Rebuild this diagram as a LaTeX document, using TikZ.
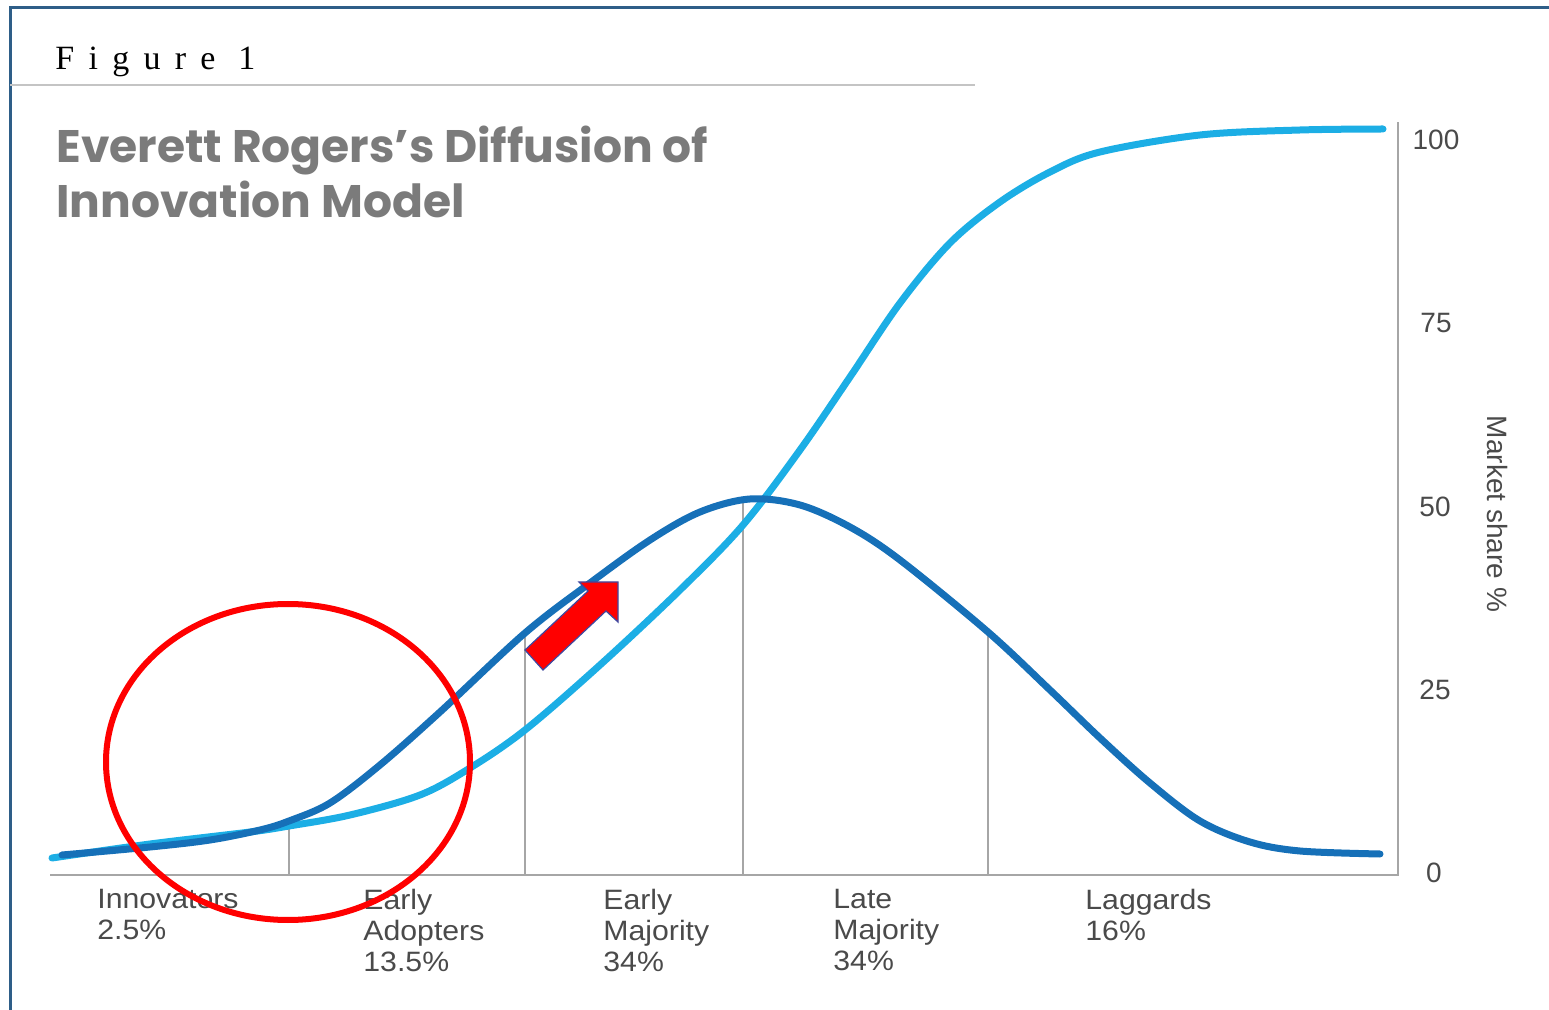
\documentclass[tikz,border=0pt]{standalone}
\usepackage{fontspec}
\setmainfont{Liberation Sans}
\newfontfamily\titlefont{Poppins}
\newfontfamily\figfont[LetterSpace=42]{Liberation Serif}
\newfontfamily\labfont[FakeStretch=1.08]{Liberation Sans}
\definecolor{frameblue}{HTML}{2E5E88}
\definecolor{sblue}{HTML}{1CAEE5}
\definecolor{bellblue}{HTML}{1670B8}
\definecolor{axisgrey}{HTML}{A6A6A6}
\definecolor{rulegrey}{HTML}{C4C4C4}
\definecolor{textgrey}{HTML}{4A4A4A}
\definecolor{titlegrey}{HTML}{7B7B7B}
\definecolor{arrowedge}{HTML}{3F48A0}
\tikzset{
  curve/.style={line width=3.5pt, line cap=round, smooth, tension=0.55},
  axisline/.style={draw=axisgrey, line width=1pt},
  divider/.style={draw=axisgrey, line width=1pt},
  catlabel/.style={anchor=north west, inner sep=0pt, align=left, text=textgrey,
    font=\labfont\fontsize{14pt}{15.5pt}\selectfont},
  ticklab/.style={inner sep=0pt, text=textgrey, font=\fontsize{14pt}{16pt}\selectfont},
}
\begin{document}
\begin{tikzpicture}[x=0.5pt, y=-0.5pt]
\useasboundingbox (0,0) rectangle (1549,1010);
% frame
\draw[frameblue, line width=1.5pt] (10,1010) -- (10,8) -- (1549,8);
\draw[rulegrey, line width=1pt] (10,85) -- (975,85);
% header texts
\node[anchor=base west, inner sep=0pt, font=\figfont\fontsize{17pt}{19pt}\selectfont] (fig) at (55,70) {Figure 1};
\node[anchor=base west, inner sep=0pt, align=left, text=titlegrey,
  font=\titlefont\bfseries\fontsize{22.8pt}{27.5pt}\selectfont] (title) at (56,218)
  {Everett Rogers’s Diffusion of\\Innovation Model};
% axes
\coordinate (o) at (50,875);
\coordinate (xr) at (1398,875);
\coordinate (yt) at (1398,122);
\draw[axisline] (o) -- (xr) -- (yt);
% dividers
\coordinate (d1b) at (289,875); \coordinate (d1t) at (289,822);
\coordinate (d2b) at (525,875); \coordinate (d2t) at (525,632);
\coordinate (d3b) at (743,875); \coordinate (d3t) at (743,502);
\coordinate (d4b) at (988,875); \coordinate (d4t) at (988,632);
\draw[divider] (d1b) -- (d1t);
\draw[divider] (d2b) -- (d2t);
\draw[divider] (d3b) -- (d3t);
\draw[divider] (d4b) -- (d4t);
% S curve
\draw[curve, draw=sblue] plot coordinates {(52,858) (150,844) (250,832) (289,826) (350,815) (420,795) (470,768) (525,730) (600,665) (680,590) (743,525) (800,450) (850,377) (900,303) (950,243) (1000,202) (1050,172) (1100,152) (1200,135) (1300,130) (1383,129)};
% bell curve
\draw[curve, draw=bellblue] plot coordinates {(62,855) (150,847) (210,840) (260,830) (289,821) (330,803) (380,765) (440,712) (525,633) (590,583) (650,540) (700,512) (750,499) (800,505) (850,527) (900,560) (988,632) (1050,690) (1100,738) (1150,783) (1200,821) (1250,842) (1300,851) (1380,854)};
% ticks
\node[ticklab] (t100) at (1436,140) {100};
\node[ticklab] (t75) at (1436,323) {75};
\node[ticklab] (t50) at (1435,507) {50};
\node[ticklab] (t25) at (1435,690) {25};
\node[ticklab] (t0) at (1434,873) {0};
\node[ticklab, rotate=-90] (ms) at (1497,514) {Market share \%};
% category labels
\node[catlabel] (inn) at (97,889) {Innovators\\2.5\%};
\node[catlabel] (ea) at (363,889) {Early\\Adopters\\13.5\%};
\node[catlabel] (em) at (603,889) {Early\\Majority\\34\%};
\node[catlabel] (lm) at (833,889) {Late\\Majority\\34\%};
\node[catlabel] (lag) at (1085,889) {Laggards\\16\%};
% red ellipse
\draw[red, line width=3pt] (288,762) ellipse [x radius=182, y radius=158];
% red arrow
\filldraw[fill=red, draw=arrowedge, line width=0.6pt]
  (525,650) -- (588,591) -- (579,582) -- (618,582) -- (618,622) -- (606,611) -- (543,670) -- cycle;
\end{tikzpicture}
\end{document}
